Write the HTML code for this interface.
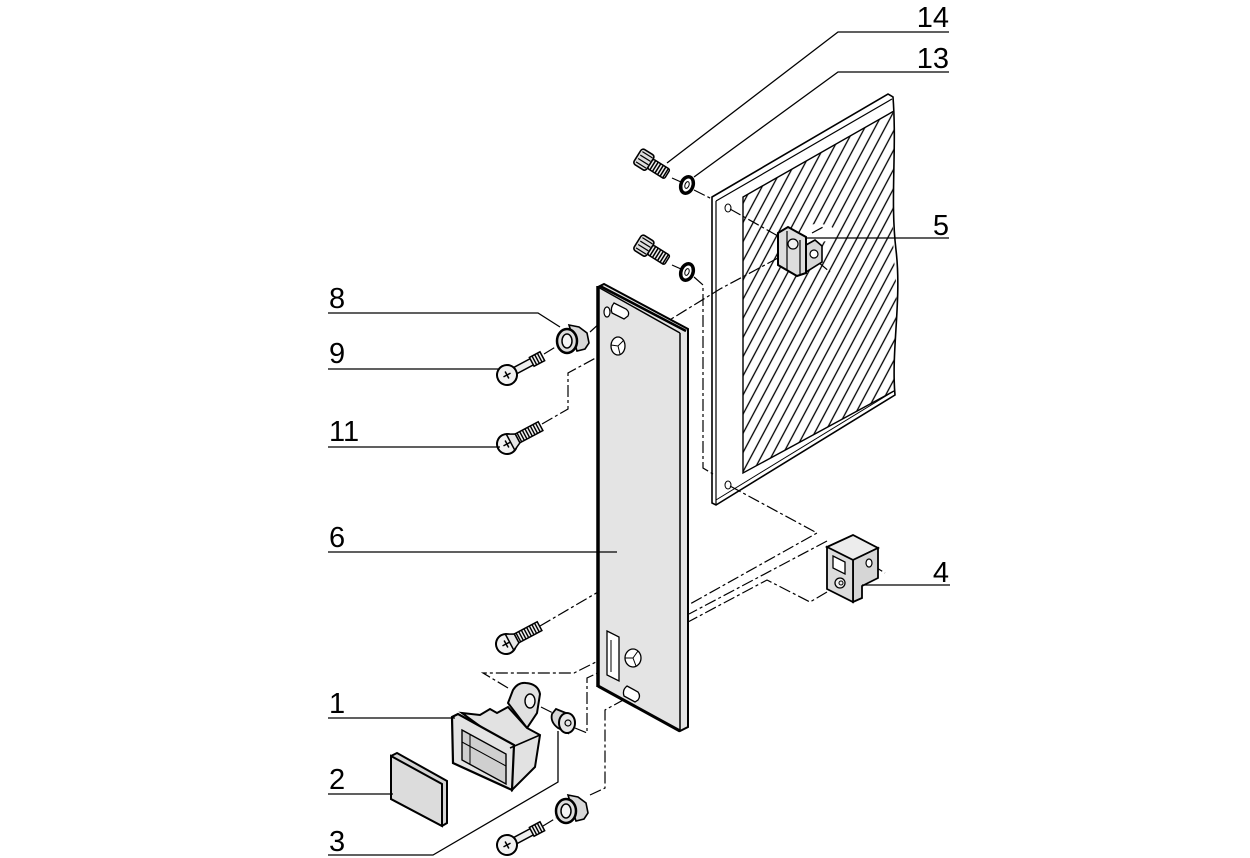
<!DOCTYPE html>
<html><head><meta charset="utf-8"><style>
html,body{margin:0;padding:0;background:#fff;}
svg{display:block;}
text{font-family:"Liberation Sans",Arial,sans-serif;font-size:29px;fill:#000;}
</style></head><body>
<svg width="1250" height="858" viewBox="0 0 1250 858" xmlns="http://www.w3.org/2000/svg">
<defs>
<pattern id="h" patternUnits="userSpaceOnUse" width="9" height="9" patternTransform="rotate(-62)">
<line x1="0" y1="4.5" x2="9" y2="4.5" stroke="#000" stroke-width="1.3"/>
</pattern>
<g id="s11">
<circle cx="0" cy="0" r="10" fill="#f2f2f2" stroke="#000" stroke-width="2"/>
<path d="M-4,0 H4 M0,-4 V4" stroke="#000" stroke-width="1.5"/>
<path d="M4,-9 L12,-5 L12,5 L4,9 Z" fill="#e6e6e6" stroke="#000" stroke-width="1.5"/>
<rect x="12" y="-5" width="26" height="10" fill="#eee" stroke="#000" stroke-width="1.5"/>
<path d="M14,-5V5M17,-5V5M20,-5V5M23,-5V5M26,-5V5M29,-5V5M32,-5V5M35,-5V5" stroke="#000" stroke-width="1.4"/>
</g>
<g id="s9">
<rect x="5" y="-3.5" width="24" height="7" fill="#eee" stroke="#000" stroke-width="1.5"/>
<rect x="28" y="-5" width="12" height="10" fill="#eee" stroke="#000" stroke-width="1.5"/>
<path d="M31,-5V5M34,-5V5M37,-5V5" stroke="#000" stroke-width="1.4"/>
<path d="M0,-10 L6,-8 L6,8 L0,10 Z" fill="#e6e6e6" stroke="#000" stroke-width="1.5"/>
<circle cx="0" cy="0" r="10" fill="#f2f2f2" stroke="#000" stroke-width="2"/>
<path d="M-4,0 H4 M0,-4 V4" stroke="#000" stroke-width="1.5"/>
</g>
<g id="s14">
<rect x="-10" y="-9" width="15" height="18" rx="3" fill="#ddd" stroke="#000" stroke-width="1.6"/>
<path d="M-8,-6H4M-8,-2H4M-8,2H4M-8,6H4" stroke="#000" stroke-width="1.2"/>
<rect x="5" y="-5.5" width="20" height="11" rx="2" fill="#eee" stroke="#000" stroke-width="1.5"/>
<path d="M8,-5.5V5.5M11,-5.5V5.5M14,-5.5V5.5M17,-5.5V5.5M20,-5.5V5.5M23,-5.5V5.5" stroke="#000" stroke-width="1.5"/>
</g>
<g id="clip">
<path d="M2,-14 L12,-12 L20,-6 L22,4 L18,10 L10,12 Z" fill="#d8d8d8" stroke="#000" stroke-width="1.6"/>
<ellipse cx="0" cy="2" rx="10" ry="12" fill="#ddd" stroke="#000" stroke-width="2.5"/>
<ellipse cx="0" cy="2" rx="5" ry="7" fill="#f4f4f4" stroke="#000" stroke-width="1.5"/>
</g>
<g id="washer">
<ellipse cx="0" cy="0" rx="6" ry="8.5" fill="#fff" stroke="#000" stroke-width="3.5"/>
<ellipse cx="0" cy="0" rx="2" ry="3.5" fill="#fff" stroke="#000" stroke-width="1"/>
</g>
</defs>

<!-- Right hatched panel -->
<path d="M712,197 L888,94 L893,97 C897,150 890,200 896,250 S891,350 895,395 L716,505 L712,503 Z" fill="#fff" stroke="#000" stroke-width="1.6"/>
<line x1="716" y1="201" x2="892" y2="99" stroke="#000" stroke-width="1.2"/>
<line x1="716" y1="201" x2="716" y2="505" stroke="#000" stroke-width="1.2"/>
<line x1="716" y1="500" x2="894" y2="391" stroke="#000" stroke-width="1"/>
<path d="M743,197 L893,111 C896,160 890,220 895,270 S891,350 894,391 L743,473 Z" fill="url(#h)" stroke="none"/>
<path d="M894,111 L743,197 L743,473 L894,391" fill="none" stroke="#000" stroke-width="1.4"/>
<ellipse cx="818" cy="233" rx="18" ry="9" fill="#fff"/>
<ellipse cx="728" cy="208" rx="3" ry="4" fill="#fff" stroke="#000" stroke-width="1"/>
<ellipse cx="728" cy="485" rx="3" ry="4" fill="#fff" stroke="#000" stroke-width="1"/>

<!-- dash-dot lines -->
<g fill="none" stroke="#000" stroke-width="1.2" stroke-dasharray="12 3 3 3">
<path d="M672,178 L681,182"/>
<path d="M694,190 L712,199"/>
<path d="M730,209 L778,236"/>
<path d="M778,258 L720,289 L668,321"/>
<path d="M672,265 L681,269"/>
<path d="M694,277 L703,285 L703,468 L713,474"/>
<path d="M590,332 L613,311"/>
<path d="M544,354 L557,346"/>
<path d="M542,424 L568,409 L568,373 L614,348"/>
<path d="M730,486 L817,533 L690,604"/>
<path d="M827,541 L689,614"/>
<path d="M827,592 L810,602 L767,580 L688,622"/>
<path d="M540,626 L622,578 L622,663"/>
<path d="M508,688 L483,673 L574,673 L614,653"/>
<path d="M541,707 L553,713"/>
<path d="M575,728 L587,733 L587,678 L608,668"/>
<path d="M590,795 L605,788 L605,710 L625,699"/>
<path d="M543,826 L556,818"/>
<path d="M812,233 L825,226"/>
<path d="M818,262 L830,272"/>
<path d="M872,565 L885,573"/>
</g>

<!-- Front panel 6 -->
<polygon points="598,287 604,284 688,329 688,727 680,731 598,686" fill="#e4e4e4" stroke="#000" stroke-width="2"/>
<line x1="598" y1="287" x2="680" y2="333" stroke="#000" stroke-width="1.5"/>
<line x1="680" y1="333" x2="680" y2="731" stroke="#000" stroke-width="1.5"/>
<line x1="598" y1="286" x2="598" y2="687" stroke="#000" stroke-width="3.5"/>
<line x1="598" y1="686" x2="680" y2="731" stroke="#000" stroke-width="3"/>
<line x1="600" y1="286" x2="686" y2="331" stroke="#000" stroke-width="2.5"/>
<!-- holes -->
<ellipse cx="607" cy="312" rx="3" ry="5" fill="#fff" stroke="#000" stroke-width="1.2"/>
<path d="M614,303 L626,309 Q630,312 628,316 L624,319 L612,313 Q610,308 614,303 Z" fill="#fff" stroke="#000" stroke-width="1.3"/>
<ellipse cx="618" cy="346" rx="7" ry="9" fill="#fff" stroke="#000" stroke-width="1.3"/>
<path d="M611,345 L618,346 L624,340 M618,346 L620,354" stroke="#000" stroke-width="1" fill="none"/>
<polygon points="607,631 619,637 619,681 607,675" fill="#fff" stroke="#000" stroke-width="1.3"/>
<line x1="611" y1="640" x2="611" y2="672" stroke="#000" stroke-width="1"/>
<ellipse cx="633" cy="658" rx="8" ry="9" fill="#fff" stroke="#000" stroke-width="1.3"/>
<path d="M625,658 L633,658 L638,651 M633,658 L636,666" stroke="#000" stroke-width="1" fill="none"/>
<path d="M627,686 L638,692 Q641,696 638,700 L635,702 L624,696 Q622,690 627,686 Z" fill="#fff" stroke="#000" stroke-width="1.3"/>

<!-- screws 14 and washers 13 -->
<use href="#s14" transform="translate(646,161) rotate(32)"/>
<use href="#s14" transform="translate(646,247) rotate(32)"/>
<use href="#washer" transform="translate(687,185) rotate(20)"/>
<use href="#washer" transform="translate(687,272) rotate(20)"/>

<!-- part 5 -->
<polygon points="806,245 815,240 822,246 822,262 806,272" fill="#d8d8d8" stroke="#000" stroke-width="1.6"/>
<circle cx="814" cy="254" r="4" fill="#fff" stroke="#000" stroke-width="1.2"/>
<polygon points="778,233 788,227 806,237 806,273 797,276 778,265" fill="#ddd" stroke="#000" stroke-width="2"/>
<path d="M787,231 V271 M800,240 V274" stroke="#000" stroke-width="1.2" fill="none"/>
<circle cx="793" cy="244" r="5" fill="#f2f2f2" stroke="#000" stroke-width="1.2"/>

<!-- part 4 -->
<polygon points="827,547 853,535 878,548 853,560" fill="#ececec" stroke="#000" stroke-width="1.8"/>
<polygon points="853,560 878,548 878,578 862,586 862,598 853,602" fill="#d6d6d6" stroke="#000" stroke-width="1.8"/>
<polygon points="827,547 853,560 853,602 827,589" fill="#dcdcdc" stroke="#000" stroke-width="1.8"/>
<polygon points="833,556 845,562 845,574 833,568" fill="#fff" stroke="#000" stroke-width="1.3"/>
<circle cx="840" cy="583" r="5" fill="#eee" stroke="#000" stroke-width="1.3"/>
<circle cx="841" cy="583" r="2" fill="none" stroke="#000" stroke-width="1"/>
<ellipse cx="869" cy="563" rx="3" ry="4" fill="#fff" stroke="#000" stroke-width="1.2"/>

<!-- screws left -->
<use href="#clip" transform="translate(567,339)"/>
<use href="#s9" transform="translate(507,375) rotate(-28)"/>
<use href="#s11" transform="translate(507,444) rotate(-28)"/>
<use href="#s11" transform="translate(506,644) rotate(-28)"/>
<use href="#clip" transform="translate(566,809)"/>
<use href="#s9" transform="translate(507,845) rotate(-28)"/>

<!-- part 1 latch -->
<path d="M508,703 L513,690 Q518,682 526,683 Q538,684 540,694 L537,713 L527,728 Z" fill="#e0e0e0" stroke="#000" stroke-width="2"/>
<ellipse cx="530" cy="701" rx="5" ry="7" fill="#f4f4f4" stroke="#000" stroke-width="1.4"/>
<polygon points="462,713 480,715 490,709 497,713 508,707 527,728 540,735 535,767 512,790 510,748" fill="#e2e2e2" stroke="#000" stroke-width="2"/>
<polygon points="452,717 458,714 514,745 512,790 453,763" fill="#e4e4e4" stroke="#000" stroke-width="2.2"/>
<polygon points="462,730 506,754 506,784 462,760" fill="#cfcfcf" stroke="#000" stroke-width="1.4"/>
<path d="M462,742 L506,766 M470,734 L470,764" stroke="#000" stroke-width="1" fill="none"/>
<line x1="510" y1="748" x2="540" y2="735" stroke="#000" stroke-width="1.5"/>

<!-- part 2 -->
<polygon points="391,756 397,753 447,781 447,823 442,826 391,799" fill="#d4d4d4" stroke="#000" stroke-width="2"/>
<polygon points="391,756 442,784 442,826 391,799" fill="#dcdcdc" stroke="#000" stroke-width="2"/>

<!-- part 3 -->
<path d="M556,709 L566,713 L568,733 L558,728 Q550,722 552,714 Z" fill="#d6d6d6" stroke="#000" stroke-width="1.8"/>
<ellipse cx="567" cy="723" rx="8" ry="10" fill="#e6e6e6" stroke="#000" stroke-width="2"/>
<circle cx="568" cy="723" r="3" fill="none" stroke="#000" stroke-width="1.2"/>

<!-- leader lines -->
<g fill="none" stroke="#000" stroke-width="1.3">
<path d="M667,163 L838,32 L949,32"/>
<path d="M694,177 L838,72 L949,72"/>
<path d="M805,238 L949,238"/>
<path d="M862,585 L950,585"/>
<path d="M328,313 L538,313 L560,327"/>
<path d="M328,369 L498,369"/>
<path d="M328,447 L500,447"/>
<path d="M328,552 L617,552"/>
<path d="M328,718 L455,718"/>
<path d="M328,794 L393,794"/>
<path d="M328,855 L433,855 L558,782 L558,731"/>
</g>

<!-- labels -->
<text x="949" y="27" text-anchor="end">14</text>
<text x="949" y="68" text-anchor="end">13</text>
<text x="949" y="235" text-anchor="end">5</text>
<text x="949" y="582" text-anchor="end">4</text>
<text x="329" y="308">8</text>
<text x="329" y="363">9</text>
<text x="329" y="441">11</text>
<text x="329" y="547">6</text>
<text x="329" y="713">1</text>
<text x="329" y="789">2</text>
<text x="329" y="851">3</text>
</svg>
</body></html>
